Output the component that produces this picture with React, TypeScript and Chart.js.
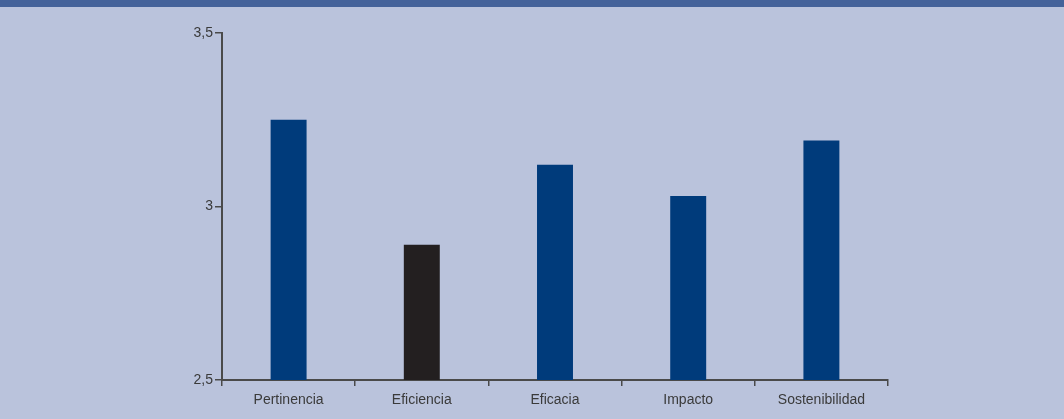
import React, { useEffect, useRef } from "react";
import { Chart, registerables } from "chart.js";

Chart.register(...registerables);

const categories = ["Pertinencia", "Eficiencia", "Eficacia", "Impacto", "Sostenibilidad"];
const values = [3.25, 2.89, 3.12, 3.03, 3.19];
const barColors = ["#003b7b", "#231f20", "#003b7b", "#003b7b", "#003b7b"];
const yMin = 2.5;
const yMax = 3.5;
const yStep = 0.5;

export default function App() {
  const ref = useRef<HTMLCanvasElement | null>(null);

  useEffect(() => {
    if (!ref.current) return;
    const axisColor = "#4a4a4a";
    const chart = new Chart(ref.current, {
      type: "bar",
      data: {
        labels: categories,
        datasets: [
          {
            data: values,
            backgroundColor: barColors,
            borderWidth: 0,
            categoryPercentage: 1,
            barPercentage: 0.27,
          },
        ],
      },
      options: {
        animation: false,
        responsive: false,
        maintainAspectRatio: false,
        layout: { padding: { top: 33, right: 176, bottom: 0, left: 0 } },
        plugins: { legend: { display: false }, tooltip: { enabled: false } },
        scales: {
          x: {
            grid: {
              display: true,
              drawOnChartArea: false,
              drawTicks: true,
              tickLength: 6,
              color: axisColor,
              lineWidth: 1.5,
              offset: true,
            },
            border: { display: true, color: axisColor, width: 2 },
            ticks: {
              color: "#3a3a3a",
              font: { family: "'Liberation Sans', Arial, sans-serif", size: 14 },
              padding: 6,
              maxRotation: 0,
            },
            afterFit: (s: any) => {
              s.height = 39;
            },
          },
          y: {
            min: yMin,
            max: yMax,
            grid: {
              display: true,
              drawOnChartArea: false,
              drawTicks: true,
              tickLength: 7,
              color: axisColor,
              lineWidth: 1.5,
            },
            border: { display: true, color: axisColor, width: 2 },
            ticks: {
              stepSize: yStep,
              color: "#3a3a3a",
              font: { family: "'Liberation Sans', Arial, sans-serif", size: 14 },
              padding: 2,
              callback: (v: any) => String(Number(v)).replace(".", ","),
            },
            afterFit: (s: any) => {
              s.width = 222;
            },
          },
        },
      },
    });
    return () => chart.destroy();
  }, []);

  return (
    <div
      style={{
        position: "absolute",
        left: 0,
        top: 0,
        width: 1064,
        height: 419,
        background: "#bac3dc",
        overflow: "hidden",
      }}
    >
      <div style={{ position: "absolute", left: 0, top: 0, width: 1064, height: 7, background: "#44629a" }} />
      <canvas
        ref={ref}
        width={1064}
        height={419}
        style={{ position: "absolute", left: 0, top: 0, width: 1064, height: 419 }}
      />
    </div>
  );
}
